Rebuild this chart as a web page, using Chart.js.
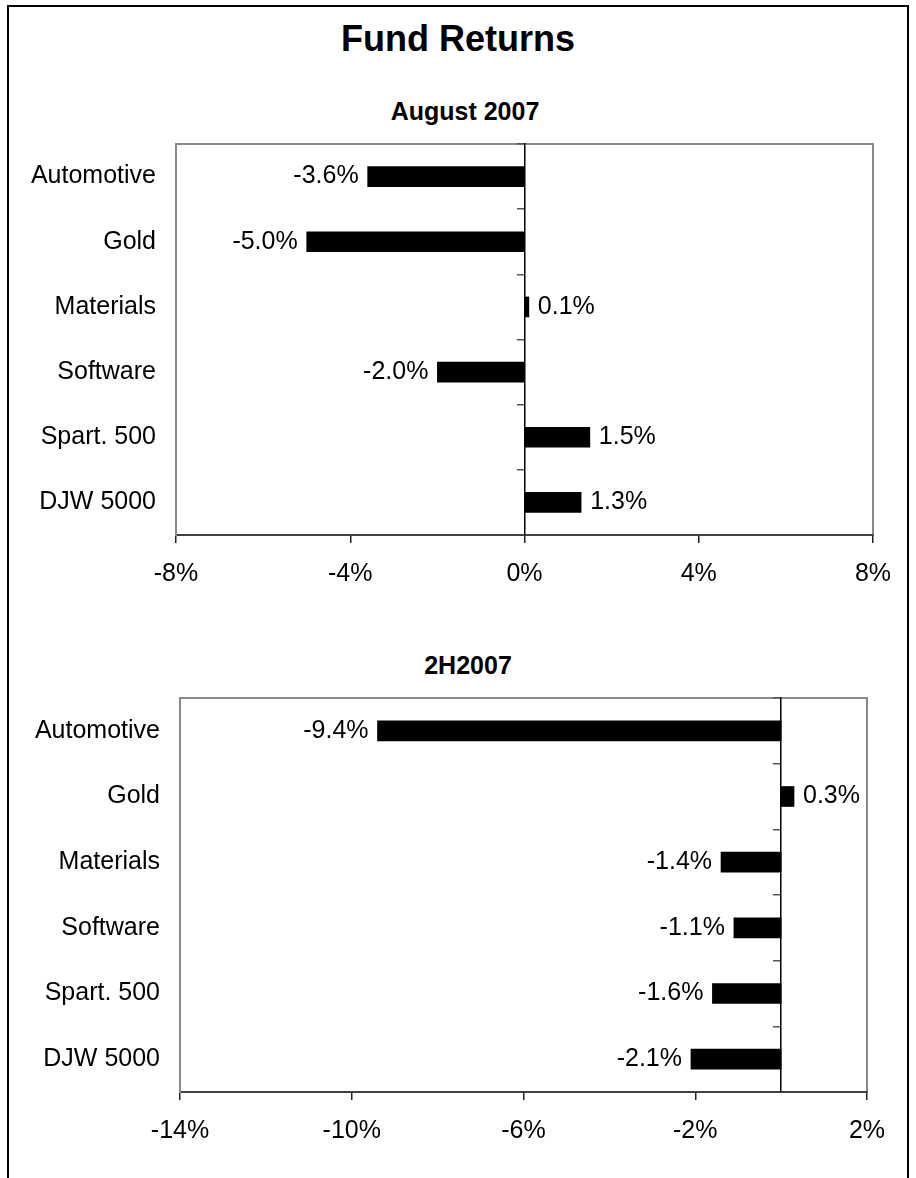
<!DOCTYPE html>
<html><head><meta charset="utf-8">
<script src="https://cdn.jsdelivr.net/npm/chart.js@4.4.1/dist/chart.umd.min.js"></script>
<style>
html,body{margin:0;padding:0;background:#fff;width:916px;height:1178px;overflow:hidden;}
#frame{position:absolute;left:7px;top:5px;width:902px;height:1300px;border:2px solid #000;box-sizing:border-box;}
.t{position:absolute;font-family:"Liberation Sans",Arial,sans-serif;font-weight:bold;color:#000;white-space:nowrap;transform:translateX(-50%);}
canvas{position:absolute;left:0;}
</style></head><body>
<div id="frame"></div>
<div class="t" style="left:458px;top:21px;font-size:36px;line-height:36px;">Fund Returns</div>
<div class="t" style="left:465px;top:99px;font-size:25px;line-height:25px;">August 2007</div>
<div class="t" style="left:468px;top:653px;font-size:25px;line-height:25px;">2H2007</div>
<canvas id="c1" width="916" height="600" style="top:0px"></canvas>
<canvas id="c2" width="916" height="578" style="top:600px"></canvas>
<script>
const categories = ["Automotive", "Gold", "Materials", "Software", "Spart. 500", "DJW 5000"];
const augustReturns = [-3.6, -5.0, 0.1, -2.0, 1.5, 1.3];
const h2Returns = [-9.4, 0.3, -1.4, -1.1, -1.6, -2.1];
const augustTicks = [-8, -4, 0, 4, 8];
const h2Ticks = [-14, -10, -6, -2, 2];

const FONT = '"Liberation Sans", Arial, sans-serif';

const plotFrame = {
  id: 'plotFrame',
  beforeDraw(chart) {
    const {ctx, chartArea: a} = chart;
    ctx.save();
    ctx.strokeStyle = '#8a8a8a';
    ctx.lineWidth = 2;
    ctx.strokeRect(a.left, a.top, a.right - a.left, a.bottom - a.top);
    ctx.restore();
  }
};

const valueLabels = {
  id: 'valueLabels',
  afterDatasetsDraw(chart) {
    const ctx = chart.ctx;
    const meta = chart.getDatasetMeta(0);
    const vals = chart.data.datasets[0].data;
    ctx.save();
    ctx.font = '25px ' + FONT;
    ctx.fillStyle = '#000';
    ctx.textBaseline = 'middle';
    meta.data.forEach((bar, i) => {
      const v = vals[i];
      const txt = v.toFixed(1) + '%';
      if (v < 0) { ctx.textAlign = 'right'; ctx.fillText(txt, bar.x - 9, bar.y); }
      else { ctx.textAlign = 'left'; ctx.fillText(txt, bar.x + 9, bar.y); }
    });
    ctx.restore();
  }
};

function makeChart(id, values, tickVals, lay) {
  return new Chart(document.getElementById(id), {
    type: 'bar',
    data: {
      labels: categories,
      datasets: [{ data: values, backgroundColor: '#000', borderWidth: 0, barThickness: 20 }]
    },
    options: {
      indexAxis: 'y',
      responsive: false,
      animation: false,
      layout: { padding: { left: 0, right: lay.right, top: lay.top, bottom: 0 } },
      plugins: { legend: { display: false }, tooltip: { enabled: false }, title: { display: false } },
      scales: {
        x: {
          type: 'linear',
          min: tickVals[0],
          max: tickVals[tickVals.length - 1],
          afterBuildTicks: s => { s.ticks = tickVals.map(v => ({ value: v })); },
          afterFit: s => { s.height = lay.xHeight; },
          grid: { drawOnChartArea: false, tickLength: 8, color: '#222', lineWidth: 1.5 },
          border: { display: true, color: '#404040', width: 2 },
          ticks: {
            font: { size: 25, family: FONT }, color: '#000', padding: 16,
            maxRotation: 0, autoSkip: false,
            callback: v => v + '%'
          }
        },
        y: {
          type: 'category',
          position: 'left',
          offset: true,
          afterFit: s => { s.width = lay.yWidth; },
          grid: { display: false, drawTicks: false },
          border: { display: true, color: '#8a8a8a', width: 2 },
          ticks: { font: { size: 25, family: FONT }, color: '#000', padding: 20 }
        },
        y2: {
          type: 'category',
          axis: 'y',
          position: { x: 0 },
          offset: true,
          grid: { offset: true, drawOnChartArea: false, tickLength: 7, color: '#555', lineWidth: 1.5 },
          border: { display: true, color: '#000', width: 1.5 },
          ticks: { display: false }
        }
      }
    },
    plugins: [plotFrame, valueLabels]
  });
}

makeChart('c1', augustReturns, augustTicks, { right: 43, top: 144, yWidth: 176, xHeight: 65 });
makeChart('c2', h2Returns, h2Ticks, { right: 49, top: 98, yWidth: 180, xHeight: 86 });
</script>
</body></html>
